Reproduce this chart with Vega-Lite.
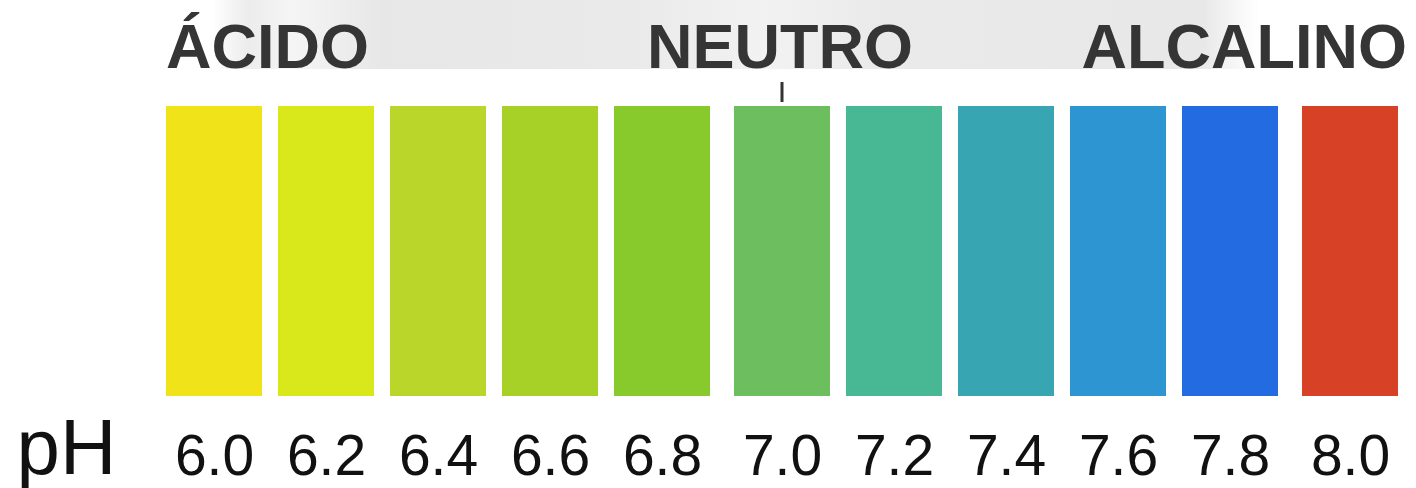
{
  "$schema": "https://vega.github.io/schema/vega-lite/v6.json",
  "width": 1416,
  "height": 290,
  "autosize": {"type": "none"},
  "padding": {"left": 0, "top": 106, "right": 0, "bottom": 92},
  "background": "#ffffff",
  "config": {"view": {"stroke": null}},
  "layer": [
    {
      "data": {"values": [{}]},
      "mark": {
        "type": "rect",
        "fill": {
          "gradient": "linear", "x1": 0, "y1": 0, "x2": 1, "y2": 0,
          "stops": [
            {"offset": 0, "color": "#ffffff"},
            {"offset": 0.15, "color": "#ffffff"},
            {"offset": 0.175, "color": "#ececec"},
            {"offset": 0.205, "color": "#f5f5f5"},
            {"offset": 0.27, "color": "#e7e7e7"},
            {"offset": 0.45, "color": "#eaeaea"},
            {"offset": 0.54, "color": "#f2f2f2"},
            {"offset": 0.62, "color": "#eaeaea"},
            {"offset": 0.85, "color": "#e8e8e8"},
            {"offset": 0.875, "color": "#f8f8f8"},
            {"offset": 0.89, "color": "#ffffff"},
            {"offset": 1, "color": "#ffffff"}
          ]
        }
      },
      "encoding": {
        "x": {"value": 0},
        "x2": {"value": 1416},
        "y": {"value": -106},
        "y2": {"value": -37}
      }
    },
    {
      "data": {
        "values": [
          {"ph": 6.0, "color": "#F0E31A"},
          {"ph": 6.2, "color": "#D8E81A"},
          {"ph": 6.4, "color": "#BBD62B"},
          {"ph": 6.6, "color": "#A7D126"},
          {"ph": 6.8, "color": "#88CA2C"},
          {"ph": 7.0, "color": "#6CBE5E"},
          {"ph": 7.2, "color": "#47B893"},
          {"ph": 7.4, "color": "#38A6B2"},
          {"ph": 7.6, "color": "#2E95D3"},
          {"ph": 7.8, "color": "#226BE0"},
          {"ph": 8.0, "color": "#D74226"}
        ]
      },
      "mark": {"type": "bar", "width": 96},
      "encoding": {
        "x": {
          "field": "ph",
          "type": "quantitative",
          "scale": {"domain": [6.0, 6.8, 7.0, 7.8, 8.0], "range": [214, 662, 782, 1230, 1350], "nice": false, "zero": false, "padding": 0},
          "axis": {
            "values": [6.0, 6.2, 6.4, 6.6, 6.8, 7.0, 7.2, 7.4, 7.6, 7.8, 8.0],
            "format": ".1f",
            "domain": false,
            "ticks": false,
            "grid": false,
            "labelOverlap": false,
            "labelBound": false,
            "labelFlush": false,
            "labelFont": "Liberation Sans, Arial, sans-serif",
            "labelFontSize": 57,
            "labelColor": "#111111",
            "labelBaseline": "alphabetic",
            "labelPadding": 78,
            "title": "pH",
            "titleFont": "Liberation Sans, Arial, sans-serif",
            "titleFontSize": 78,
            "titleFontWeight": "normal",
            "titleColor": "#111111",
            "titleAlign": "left",
            "titleBaseline": "alphabetic",
            "titleAnchor": "start",
            "titleX": 16,
            "titleY": 77
          }
        },
        "y": {"datum": 1, "type": "quantitative", "scale": {"domain": [0, 1]}, "axis": null},
        "y2": {"datum": 0},
        "color": {"field": "color", "type": "nominal", "scale": null}
      }
    },
    {
      "data": {"values": [{"ph": 7.0}]},
      "mark": {"type": "rule", "strokeWidth": 3, "color": "#333333"},
      "encoding": {
        "x": {"field": "ph", "type": "quantitative"},
        "y": {"value": -24},
        "y2": {"value": -4}
      }
    },
    {
      "data": {"values": [{"label": "ÁCIDO", "ph": 6.0}]},
      "mark": {"type": "text", "align": "left", "baseline": "alphabetic", "dx": -48, "font": "Liberation Sans, Arial, sans-serif", "fontSize": 63, "fontWeight": "bold", "color": "#353535"},
      "encoding": {
        "x": {"field": "ph", "type": "quantitative"},
        "y": {"value": -38},
        "text": {"field": "label"}
      }
    },
    {
      "data": {"values": [{"label": "NEUTRO", "ph": 7.0}]},
      "mark": {"type": "text", "align": "center", "baseline": "alphabetic", "dx": -2, "font": "Liberation Sans, Arial, sans-serif", "fontSize": 63, "fontWeight": "bold", "color": "#353535"},
      "encoding": {
        "x": {"field": "ph", "type": "quantitative"},
        "y": {"value": -38},
        "text": {"field": "label"}
      }
    },
    {
      "data": {"values": [{"label": "ALCALINO", "ph": 8.0}]},
      "mark": {"type": "text", "align": "right", "baseline": "alphabetic", "dx": 57, "font": "Liberation Sans, Arial, sans-serif", "fontSize": 63, "fontWeight": "bold", "color": "#353535"},
      "encoding": {
        "x": {"field": "ph", "type": "quantitative"},
        "y": {"value": -38},
        "text": {"field": "label"}
      }
    }
  ]
}
